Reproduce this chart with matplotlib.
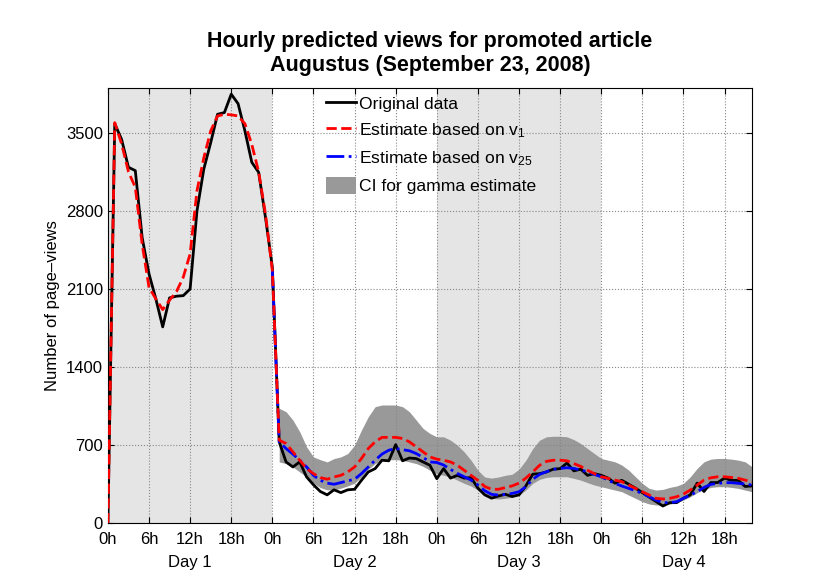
import numpy as np
import matplotlib
matplotlib.use("Agg")
import matplotlib.pyplot as plt

plt.rcParams["font.family"] = ["Liberation Sans", "DejaVu Sans"]
plt.rcParams["mathtext.fontset"] = "custom"
plt.rcParams["mathtext.rm"] = "Liberation Sans"
plt.rcParams["mathtext.it"] = "Liberation Sans"

# hourly data, hour 0 .. 94
original = [0, 3580, 3440, 3190, 3160, 2560, 2235, 2010, 1760, 2020, 2035, 2040, 2100,
            2800, 3175, 3410, 3665, 3680, 3845, 3760, 3515, 3235, 3145, 2740, 2295,
            730, 550, 505, 550, 415, 345, 285, 255, 300, 275, 300, 305, 385, 460, 490,
            565, 560, 705, 560, 585, 580, 550, 520, 400, 490, 405, 430, 405, 410, 315,
            255, 225, 245, 260, 240, 255, 335, 440, 445, 460, 485, 490, 540, 470, 485,
            430, 445, 430, 405, 360, 385, 350, 315, 275, 235, 195, 155, 185, 185, 225,
            255, 360, 285, 365, 365, 405, 385, 385, 330, 335]
est_v1 = [0, 3590, 3400, 3150, 3010, 2500, 2115, 2010, 1915, 2000, 2075, 2205, 2415,
          2980, 3275, 3515, 3650, 3665, 3660, 3650, 3580, 3395, 3150, 2770, 2265,
          745, 715, 640, 565, 490, 445, 410, 395, 415, 430, 460, 505, 580, 670, 730,
          770, 770, 770, 760, 730, 685, 640, 595, 575, 565, 550, 520, 475, 430, 385,
          330, 305, 305, 320, 335, 360, 405, 460, 520, 555, 565, 565, 560, 535, 510,
          475, 445, 417, 403, 387, 373, 343, 313, 283, 253, 224, 218, 224, 238, 262,
          298, 343, 387, 408, 417, 417, 411, 403, 387, 373]
# v25 estimate, hour 24 .. 94
est_v25 = [2265, 730, 670, 620, 565, 505, 430, 385, 360, 350, 365, 380, 395, 445, 505,
           565, 620, 655, 670, 660, 650, 625, 590, 550, 545, 522, 483, 447, 417, 387,
           343, 292, 259, 253, 259, 268, 283, 328, 394, 438, 462, 483, 492, 498, 492,
           477, 462, 438, 417, 387, 358, 334, 313, 292, 268, 238, 209, 185, 185, 194,
           224, 253, 283, 322, 349, 358, 364, 364, 358, 352, 343]
# gamma CI, hour 25 .. 94
ci_upper = [1030, 1000, 925, 820, 685, 595, 570, 550, 580, 595, 625, 700, 835, 955,
            1045, 1060, 1060, 1060, 1045, 1000, 925, 850, 805, 775, 775, 745, 700, 640,
            565, 475, 415, 405, 415, 430, 440, 485, 565, 670, 745, 775, 780, 780, 775,
            750, 715, 670, 625, 581, 566, 551, 522, 477, 417, 358, 313, 298, 304, 322,
            334, 358, 417, 492, 551, 575, 581, 581, 575, 566, 551, 507]
ci_lower = [550, 535, 505, 460, 415, 360, 320, 300, 300, 315, 335, 360, 415, 485, 535,
            565, 570, 570, 565, 550, 535, 510, 475, 445, 430, 415, 387, 358, 334, 298,
            253, 224, 218, 224, 233, 253, 298, 358, 394, 411, 417, 417, 417, 403, 387,
            364, 343, 328, 313, 298, 283, 253, 224, 194, 173, 164, 164, 173, 185, 209,
            238, 274, 304, 322, 328, 328, 322, 313, 298, 283]

day_names = ["Day 1", "Day 2", "Day 3", "Day 4"]

hours = np.arange(len(original))
hours_v25 = np.arange(24, 24 + len(est_v25))
hours_ci = np.arange(25, 25 + len(ci_upper))

fig = plt.figure(figsize=(8.3, 5.87), dpi=100)
ax = fig.add_axes([0.130, 0.1085, 0.776, 0.7415])

# shaded days 1 and 3
for start in (0, 48):
    ax.axvspan(start, start + 24, color="#e5e5e5", zorder=0.5, lw=0)

ci = ax.fill_between(hours_ci, ci_lower, ci_upper, color="#999999", lw=0, zorder=1,
                     label="CI for gamma estimate")
l1, = ax.plot(hours, original, color="black", lw=2, zorder=2, label="Original data")
l3, = ax.plot(hours_v25, est_v25, color="blue", lw=2, ls="-.", zorder=3,
              label="Estimate based on v$_{25}$")
l2, = ax.plot(hours, est_v1, color="red", lw=2, ls="--", zorder=4,
              label="Estimate based on v$_{1}$")

ax.set_xlim(0, 94)
ax.set_ylim(0, 3900)
ax.set_yticks(np.arange(0, 3501, 700))
xt = np.arange(0, 91, 6)
ax.set_xticks(xt)
ax.set_xticklabels([f"{h % 24}h" for h in xt])
ax.tick_params(direction="in", top=True, right=True, labelsize=12, length=4)
ax.tick_params(axis="x", pad=6)
ax.set_axisbelow("line")
ax.grid(True, ls=":", color="#888888", lw=0.8)

for i, name in enumerate(day_names):
    ax.text(12 + 24 * i, -0.09, name, transform=ax.get_xaxis_transform(),
            ha="center", va="center", fontsize=12)

ax.set_ylabel("Number of page\u2013views", fontsize=12)
ax.set_title("Hourly predicted views for promoted article\nAugustus (September 23, 2008)",
             fontsize=15.5, fontweight="bold", pad=12)

ax.legend([l1, l2, l3, ci], [l1.get_label(), l2.get_label(), l3.get_label(), ci.get_label()],
          loc="upper left", bbox_to_anchor=(0.327, 1.0), frameon=False, fontsize=12.6,
          handlelength=1.75, handleheight=1.1, labelspacing=0.5, handletextpad=0.15,
          borderaxespad=0)

fig.savefig("out.png", dpi=100)
